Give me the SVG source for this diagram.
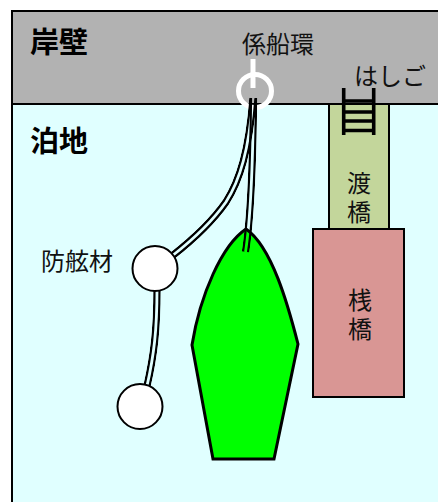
<svg xmlns="http://www.w3.org/2000/svg" width="438" height="502" viewBox="0 0 438 502">
<style>
.o{fill:none;stroke:#000;stroke-width:7.500}
.mo{fill:none;stroke:#fff;stroke-width:7.500}
.mi{fill:none;stroke:#000;stroke-width:2.800}
.b{stroke:#000;stroke-width:2}
.t{font-family:"Noto Sans CJK JP","Noto Sans CJK SC",sans-serif;font-size:24px;fill:#111;text-anchor:middle}
.h{font-family:"Noto Sans CJK JP","Noto Sans CJK SC",sans-serif;font-size:29px;font-weight:700;fill:#000}
</style>
<defs>
<path id="r1" d="M253 98C249 150 240 180 226 202C212 222 195 238 172 256"/>
<path id="r2" d="M253.500 98C253 150 252 210 245.500 252"/>
<path id="r3" d="M157 289C157 330 154 355 147 386"/>
<mask id="m1" maskUnits="userSpaceOnUse" x="0" y="0" width="438" height="502"><use href="#r1" class="mo"/><use href="#r1" class="mi"/></mask>
<mask id="m2" maskUnits="userSpaceOnUse" x="0" y="0" width="438" height="502"><use href="#r2" class="mo"/><use href="#r2" class="mi"/></mask>
<mask id="m3" maskUnits="userSpaceOnUse" x="0" y="0" width="438" height="502"><use href="#r3" class="mo"/><use href="#r3" class="mi"/></mask>
</defs>
<rect width="438" height="502" fill="#fff"/>
<g id="basin"><rect x="12" y="104" width="427" height="399" fill="#e0ffff" class="b"/><text class="h" x="30" y="152">泊地</text></g>
<g id="quay"><rect x="12" y="11" width="427" height="93" fill="#b2b2b2" class="b"/><text class="h" x="30" y="53">岸壁</text></g>
<g id="gangway"><rect x="329" y="104" width="60" height="125" fill="#c3d69b" class="b"/><text class="t"><tspan x="359" y="192">渡</tspan><tspan x="359" y="221">橋</tspan></text></g>
<g id="pier"><rect x="313" y="229" width="91" height="168" fill="#d99694" class="b"/><text class="t"><tspan x="360" y="309">桟</tspan><tspan x="360" y="338">橋</tspan></text></g>
<g id="ship"><path d="M246 229C272 247 288 305 298 344L274 459H213L192 345C200 295 222 245 246 229Z" fill="#0f0" stroke="#000" stroke-width="3"/></g>
<g id="ring"><circle cx="255" cy="91" r="16.500" fill="none" stroke="#fff" stroke-width="5"/><path d="M253 59V88" stroke="#fff" stroke-width="5"/><text class="t" x="278" y="53">係船環</text></g>
<g id="connectors">
<use href="#r1" class="o" mask="url(#m1)"/>
<use href="#r2" class="o" mask="url(#m2)"/>
<use href="#r3" class="o" mask="url(#m3)"/>
</g>
<g id="ladder"><path d="M343.700 88V135M373.700 88V135M344 101H374M344 112H374M344 121H374M344 130.500H374" stroke="#000" stroke-width="3.600" fill="none"/><text class="t" x="390" y="85">はしご</text></g>
<g id="fender1"><circle cx="155" cy="268.500" r="22.500" fill="#fff" class="b"/><text class="t" x="77" y="270">防舷材</text></g>
<g id="fender2"><circle cx="140" cy="406.500" r="22.500" fill="#fff" class="b"/></g>
</svg>
